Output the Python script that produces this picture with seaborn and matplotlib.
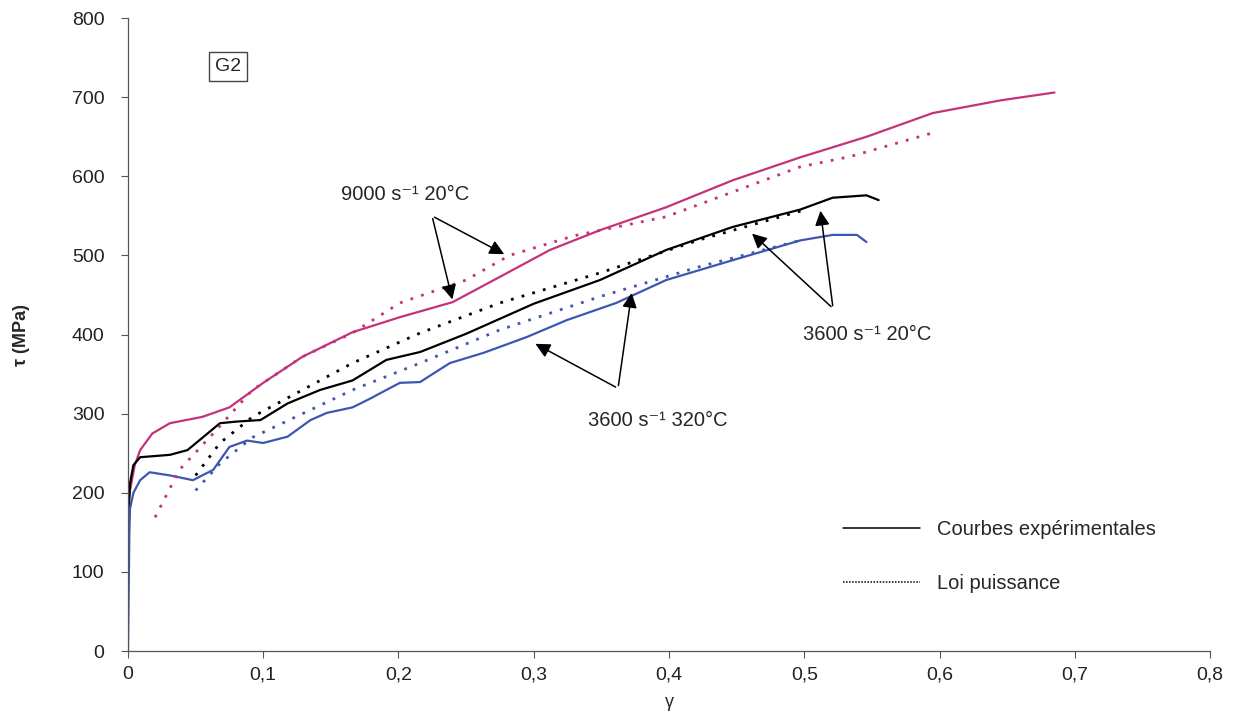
import matplotlib
matplotlib.use("Agg")
import matplotlib.pyplot as plt
import seaborn as sns
from matplotlib.lines import Line2D
from matplotlib.ticker import FuncFormatter

# 9000 s-1 20C
mag_x = [0, 0.0015, 0.005, 0.009, 0.018, 0.031, 0.055, 0.075, 0.1, 0.129, 0.166, 0.201,
         0.240, 0.275, 0.312, 0.349, 0.398, 0.447, 0.497, 0.546, 0.595, 0.645, 0.685]
mag_y = [185, 203, 235, 254, 275, 288, 296, 308, 339, 372, 403, 422,
         441, 473, 507, 532, 561, 595, 624, 650, 680, 696, 706]
mag_fit_x = [0.020, 0.038, 0.063, 0.092, 0.129, 0.166, 0.201, 0.25, 0.282, 0.33, 0.398, 0.497, 0.534, 0.595]
mag_fit_y = [169, 229, 275, 330, 372, 402, 440, 469, 500, 525, 549, 612, 625, 655]

# 3600 s-1 20C
blk_x = [0, 0.0015, 0.004, 0.009, 0.031, 0.044, 0.068, 0.08, 0.098, 0.118, 0.142, 0.166,
         0.191, 0.216, 0.25, 0.30, 0.349, 0.398, 0.447, 0.497, 0.521, 0.546, 0.555]
blk_y = [155, 212, 235, 245, 248, 254, 288, 290, 292, 313, 330, 342,
         368, 378, 401, 439, 469, 507, 536, 558, 573, 576, 570]
blk_fit_x = [0.05, 0.068, 0.092, 0.129, 0.166, 0.216, 0.275, 0.349, 0.423, 0.499]
blk_fit_y = [222, 263, 296, 330, 364, 402, 440, 478, 520, 557]

# 3600 s-1 320C
blu_x = [0, 0.0005, 0.001, 0.0015, 0.004, 0.009, 0.016, 0.031, 0.048, 0.063, 0.075, 0.088,
         0.1, 0.118, 0.135, 0.147, 0.166, 0.179, 0.191, 0.201, 0.216, 0.226, 0.238, 0.263,
         0.295, 0.324, 0.361, 0.398, 0.447, 0.497, 0.521, 0.539, 0.546]
blu_y = [0, 75, 150, 180, 200, 216, 226, 222, 216, 229, 258, 266,
         263, 271, 292, 301, 308, 319, 330, 339, 340, 351, 364, 377,
         397, 418, 440, 469, 494, 519, 526, 526, 517]
blu_fit_x = [0.05, 0.068, 0.092, 0.129, 0.166, 0.216, 0.275, 0.349, 0.423, 0.497]
blu_fit_y = [203, 237, 270, 300, 330, 364, 406, 448, 486, 519]

MAG = "#c4327c"
BLU = "#3d56b2"
DOT = (0, (1, 3))

sns.set_style("ticks")
plt.rcParams["font.family"] = ["Liberation Sans", "DejaVu Sans"]

fig = plt.figure(figsize=(12.39, 7.25), dpi=100)
ax = fig.add_axes([0.1033, 0.102, 0.8733, 0.873])

for x, y, c in [(mag_x, mag_y, MAG), (blk_x, blk_y, "black"), (blu_x, blu_y, BLU)]:
    sns.lineplot(x=x, y=y, ax=ax, color=c, lw=1.6, sort=False, estimator=None)
for x, y, c in [(mag_fit_x, mag_fit_y, MAG), (blk_fit_x, blk_fit_y, "black"), (blu_fit_x, blu_fit_y, BLU)]:
    sns.lineplot(x=x, y=y, ax=ax, color=c, lw=2, linestyle=DOT, sort=False, estimator=None)

ax.set_xlim(0, 0.8)
ax.set_ylim(0, 800)
ax.set_xticks([0, 0.1, 0.2, 0.3, 0.4, 0.5, 0.6, 0.7, 0.8])
ax.set_yticks(range(0, 801, 100))
ax.xaxis.set_major_formatter(FuncFormatter(lambda v, p: ("%g" % round(v, 2)).replace(".", ",")))
ax.tick_params(labelsize=14, length=5, width=0.8, color="#555555", labelcolor="#222222")
ax.tick_params(axis="y", pad=12)
ax.tick_params(axis="x", pad=6)
for s in ["top", "right"]:
    ax.spines[s].set_visible(False)
for s in ["left", "bottom"]:
    ax.spines[s].set_color("#555555")
    ax.spines[s].set_linewidth(0.9)

ax.set_xlabel("γ", fontsize=13, labelpad=8)
ax.set_ylabel("τ (MPa)", fontsize=13, fontweight="bold", labelpad=30)

arrow = dict(arrowstyle="-|>", color="black", lw=1.1, mutation_scale=22)

ax.text(0.205, 577, "9000 s⁻¹ 20°C", fontsize=14.5, ha="center", va="center")
for h in [(0.2403, 441), (0.280, 500)]:
    ax.annotate("", xy=h, xytext=(0.2248, 550), arrowprops=arrow)

ax.text(0.392, 292, "3600 s⁻¹ 320°C", fontsize=14.5, ha="center", va="center")
for h in [(0.2994, 390), (0.3727, 456)]:
    ax.annotate("", xy=h, xytext=(0.3623, 332), arrowprops=arrow)

ax.text(0.5464, 400, "3600 s⁻¹ 20°C", fontsize=14.5, ha="center", va="center")
for h in [(0.4599, 530), (0.5117, 560)]:
    ax.annotate("", xy=h, xytext=(0.5213, 433), arrowprops=arrow)

ax.text(0.074, 739, "G2", fontsize=14, ha="center", va="center",
        bbox=dict(boxstyle="square,pad=0.3", fc="white", ec="#444444", lw=1))

handles = [Line2D([], [], color="black", lw=1.1),
           Line2D([], [], color="black", lw=1.1, linestyle=(0, (1, 1)))]
ax.legend(handles, ["Courbes expérimentales", "Loi puissance"], loc="upper left",
          bbox_to_anchor=(0.6608, 0.207), frameon=False, fontsize=14.5,
          handlelength=3.8, labelspacing=1.75, handletextpad=0.85,
          borderpad=0, borderaxespad=0)

fig.savefig("out.png", dpi=100)
